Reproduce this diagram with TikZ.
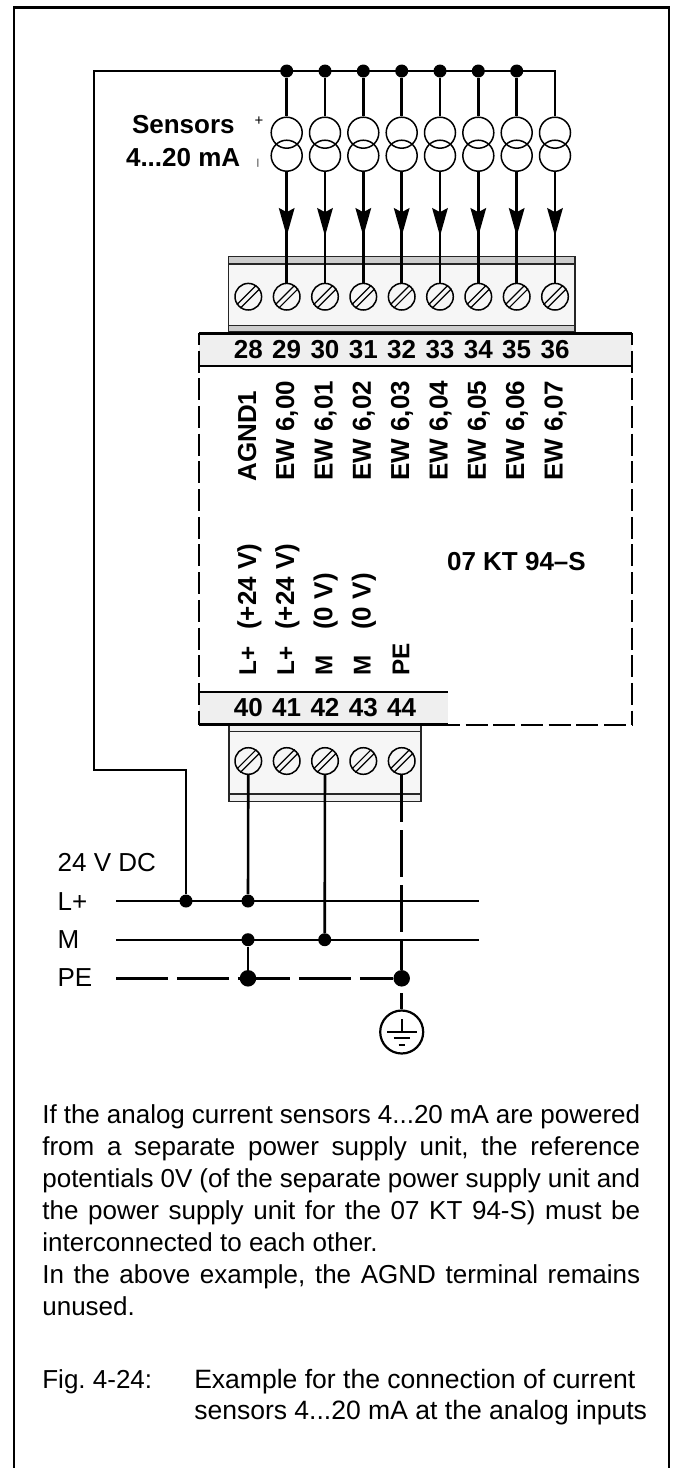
\documentclass[tikz,border=0pt]{standalone}
\usepackage{fontspec}
\setmainfont{Liberation Sans}
\usetikzlibrary{arrows.meta,decorations.markings}

\definecolor{stripgray}{HTML}{EFEFEF}
\definecolor{railgray}{HTML}{CCCCCC}
\definecolor{blockgray}{HTML}{F6F6F6}

\tikzset{
    wire/.style={draw, line width=0.052cm},
    busline/.style={draw, line width=0.042cm},
    pewire/.style={draw, line width=0.058cm},
    outline/.style={draw, line width=0.044cm, dash pattern=on 0.44cm off 0.114cm, dash phase=0.208cm},
    blockline/.style={draw=black!85, line width=0.03cm},
    dot/.style={circle, fill=black, inner sep=0pt, minimum size=0.26cm},
    bigdot/.style={circle, fill=black, inner sep=0pt, minimum size=0.33cm},
    sensorring/.style={draw, circle, inner sep=0pt, line width=0.03cm, minimum size=0.62cm},
    screwhead/.style={draw, circle, inner sep=0pt, line width=0.03cm, minimum size=0.532cm},
    boldtext/.style={inner sep=0pt, font=\bfseries\fontsize{14.8}{18}\selectfont},
    plaintext/.style={inner sep=0pt, font=\frenchspacing\fontsize{14.8}{18.2}\selectfont},
    figtext/.style={inner sep=0pt, font=\frenchspacing\fontsize{15.1}{18.2}\selectfont},
    uptext/.style={boldtext, rotate=90, anchor=base west},
    smalluptext/.style={uptext, font=\bfseries\fontsize{13.8}{18}\selectfont},
    sensorarrow/.style={decoration={markings, mark=at position 0.58 with {\arrow{Stealth[length=0.56cm, width=0.31cm, inset=0.08cm]}}}, postaction={decorate}},
}

\begin{document}
\begin{tikzpicture}[x=0.02cm, y=-0.02cm]
    \useasboundingbox (0,0) rectangle (675,1468);

    % Outer frame, open at the bottom
    \draw[line width=0.044cm] (14,1468) -- (14,7.5) -- (669,7.5) -- (669,1468);

    % Upper terminal block
    \draw[blockline, fill=blockgray] (228.7,256.3) rectangle (575,331.7);
    \draw[blockline, fill=railgray] (228.7,256.3) rectangle (575,264);
    \draw[blockline, fill=railgray] (228.7,325.7) rectangle (575,331.7);

    % Lower terminal block
    \draw[blockline, fill=blockgray] (229,724.7) rectangle (421,801.7);
    \draw[blockline, fill=stripgray] (229,724.7) rectangle (421,731.7);
    \draw[blockline, fill=stripgray] (229,794) rectangle (421,801.7);

    % Number strips of the module
    \fill[stripgray] (199,333.3) rectangle (632,366);
    \fill[stripgray] (199,692) rectangle (448.3,724.7);

    % Module outline
    \draw[outline] (199,333.3) -- (199,724.7);
    \draw[outline] (632,333.3) -- (632,724.7);
    \draw[outline] (448.3,724.7) -- (632,724.7);
    \draw[line width=0.054cm] (199,333.3) -- (632,333.3);
    \draw[line width=0.054cm] (199,366) -- (632,366);
    \draw[line width=0.054cm] (199,692) -- (448.3,692);
    \draw[line width=0.054cm] (199,724.7) -- (448.3,724.7);

    % Upper screws and terminal numbers
    \foreach \n/\x in {28/248.3, 29/286.7, 30/325, 31/363.3, 32/401.7, 33/440, 34/478.3, 35/516.7, 36/555} {
        \node[screwhead] (scr\n) at (\x,296.7) {};
        \draw[line width=0.024cm] (scr\n.55) -- (scr\n.215);
        \draw[line width=0.024cm] (scr\n.35) -- (scr\n.235);
        \node[boldtext, anchor=base] (num\n) at (\x,358.3) {\n};
    }

    % Lower screws and terminal numbers
    \foreach \n/\x in {40/248.3, 41/286.7, 42/325, 43/363.3, 44/401.7} {
        \node[screwhead] (scr\n) at (\x,761) {};
        \draw[line width=0.024cm] (scr\n.55) -- (scr\n.215);
        \draw[line width=0.024cm] (scr\n.35) -- (scr\n.235);
        \node[boldtext, anchor=base] (num\n) at (\x,716.7) {\n};
    }

    % Sensors with their supply and signal wires
    \foreach \i/\n/\x in {1/29/286.7, 2/30/325, 3/31/363.3, 4/32/401.7, 5/33/440, 6/34/478.3, 7/35/516.7, 8/36/555} {
        \node[sensorring] (up\i) at (\x,132.7) {};
        \node[sensorring] (lo\i) at (\x,155.7) {};
        \draw[wire, sensorarrow] (lo\i) -- (scr\n);
    }
    \foreach \i/\x in {1/286.7, 2/325, 3/363.3, 4/401.7, 5/440, 6/478.3, 7/516.7} {
        \node[dot] (top\i) at (\x,71) {};
        \draw[wire] (top\i) -- (up\i);
    }

    % Signal names
    \node[uptext] (agnd) at (256,482) {AGND1};
    \foreach \n/\x/\t in {29/294.2/00, 30/332.6/01, 31/370.8/02, 32/409.2/03, 33/447.5/04, 34/485.8/05, 35/524.2/06, 36/562.5/07} {
        \node[uptext] (ew\n) at (\x,481) {EW 6,\t};
    }
    \node[smalluptext] (lplus1) at (256,675.7) {L+};
    \node[smalluptext] (lplus2) at (294.2,675.7) {L+};
    \node[smalluptext] (mass1) at (332.4,675.7) {M};
    \node[smalluptext] (mass2) at (370.7,675.7) {M};
    \node[smalluptext] (peterm) at (409.3,675.7) {PE};
    \node[uptext] (volt1) at (256,630) {(+24 V)};
    \node[uptext] (volt2) at (294.2,630) {(+24 V)};
    \node[uptext] (zero1) at (332.4,630) {(0 V)};
    \node[uptext] (zero2) at (370.7,630) {(0 V)};

    % Labels
    \node[boldtext, anchor=base west] (sensors) at (131.7,133) {Sensors};
    \node[boldtext, anchor=base west] (range) at (125.7,166) {4...20 mA};
    \node[inner sep=0pt, font=\fontsize{8.5}{10}\selectfont] (plus) at (259,120.7) {+};
    \node[inner sep=0pt, font=\fontsize{5}{6}\selectfont] (minus) at (258,163) {|};
    \node[boldtext, anchor=base west] (device) at (446.7,570.7) {07 KT 94--S};

    % Supply rails
    \node[plaintext, anchor=base west] (supply) at (57.3,871.7) {24 V DC};
    \node[plaintext, anchor=base west] (labL) at (57.3,910) {L+};
    \node[plaintext, anchor=base west] (labM) at (57.3,948.3) {M};
    \node[plaintext, anchor=base west] (labPE) at (57.3,986.7) {PE};

    \coordinate (railL1) at (116,901);
    \coordinate (railL2) at (479,901);
    \coordinate (railM1) at (116,939.7);
    \coordinate (railM2) at (479,939.7);
    \coordinate (railPE) at (116,978.3);
    \node[dot] (dotA) at (186,901) {};
    \node[dot] (dotB) at (248,901) {};
    \node[dot] (dotC) at (248,939.7) {};
    \node[dot] (dotD) at (324.7,939.7) {};
    \node[bigdot] (dotE) at (248,978.3) {};
    \node[bigdot] (dotF) at (401.7,978.3) {};

    \draw[busline] (railL1) -- (railL2);
    \draw[busline] (railM1) -- (railM2);
    \draw[pewire, dash pattern=on 1.04cm off 0.18cm] (railPE) -- (dotF);

    % Wires from the supply
    \draw[wire] (dotA) -- (186,770) -- (94,770) -- (94,71) -- (555,71) -- (up8);
    \draw[wire] (scr40) -- (dotB);
    \draw[wire] (scr42) -- (dotD);
    \draw[wire] (dotC) -- (dotE);
    \draw[pewire, dash pattern=on 0.94cm off 0.16cm] (scr44) -- (dotF);

    % Earth symbol
    \node[draw, circle, inner sep=0pt, line width=0.044cm, minimum size=0.86cm] (earth) at (401.7,1032) {};
    \coordinate (earthwire) at (401.7,993);
    \draw[pewire] (earthwire) -- (earth);
    \draw[line width=0.044cm] (401.7,1019) -- (401.7,1032);
    \draw[line width=0.044cm] (387,1031.7) -- (416.5,1031.7);
    \draw[line width=0.044cm] (393.5,1038.3) -- (409.5,1038.3);
    \draw[line width=0.044cm] (398.5,1044.7) -- (405,1044.7);

    % Text below the diagram
    \node[plaintext, anchor=north west, text width=11.96cm, align=justify] (note) at (42,1104) {If the analog current sensors 4...20 mA are powered\linebreak from a separate power supply unit, the reference\linebreak potentials 0V (of the separate power supply unit and\linebreak the power supply unit for the 07 KT 94-S) must be\linebreak interconnected to each other.\\In the above example, the AGND terminal remains\linebreak unused.};
    \node[plaintext, anchor=base west] (figno) at (42,1388) {Fig. 4-24:};
    \node[figtext, anchor=base west] (figtext1) at (193.9,1388) {Example for the connection of current};
    \node[figtext, anchor=base west] (figtext2) at (193.9,1419) {sensors 4...20 mA at the analog inputs};

\end{tikzpicture}
\end{document}
